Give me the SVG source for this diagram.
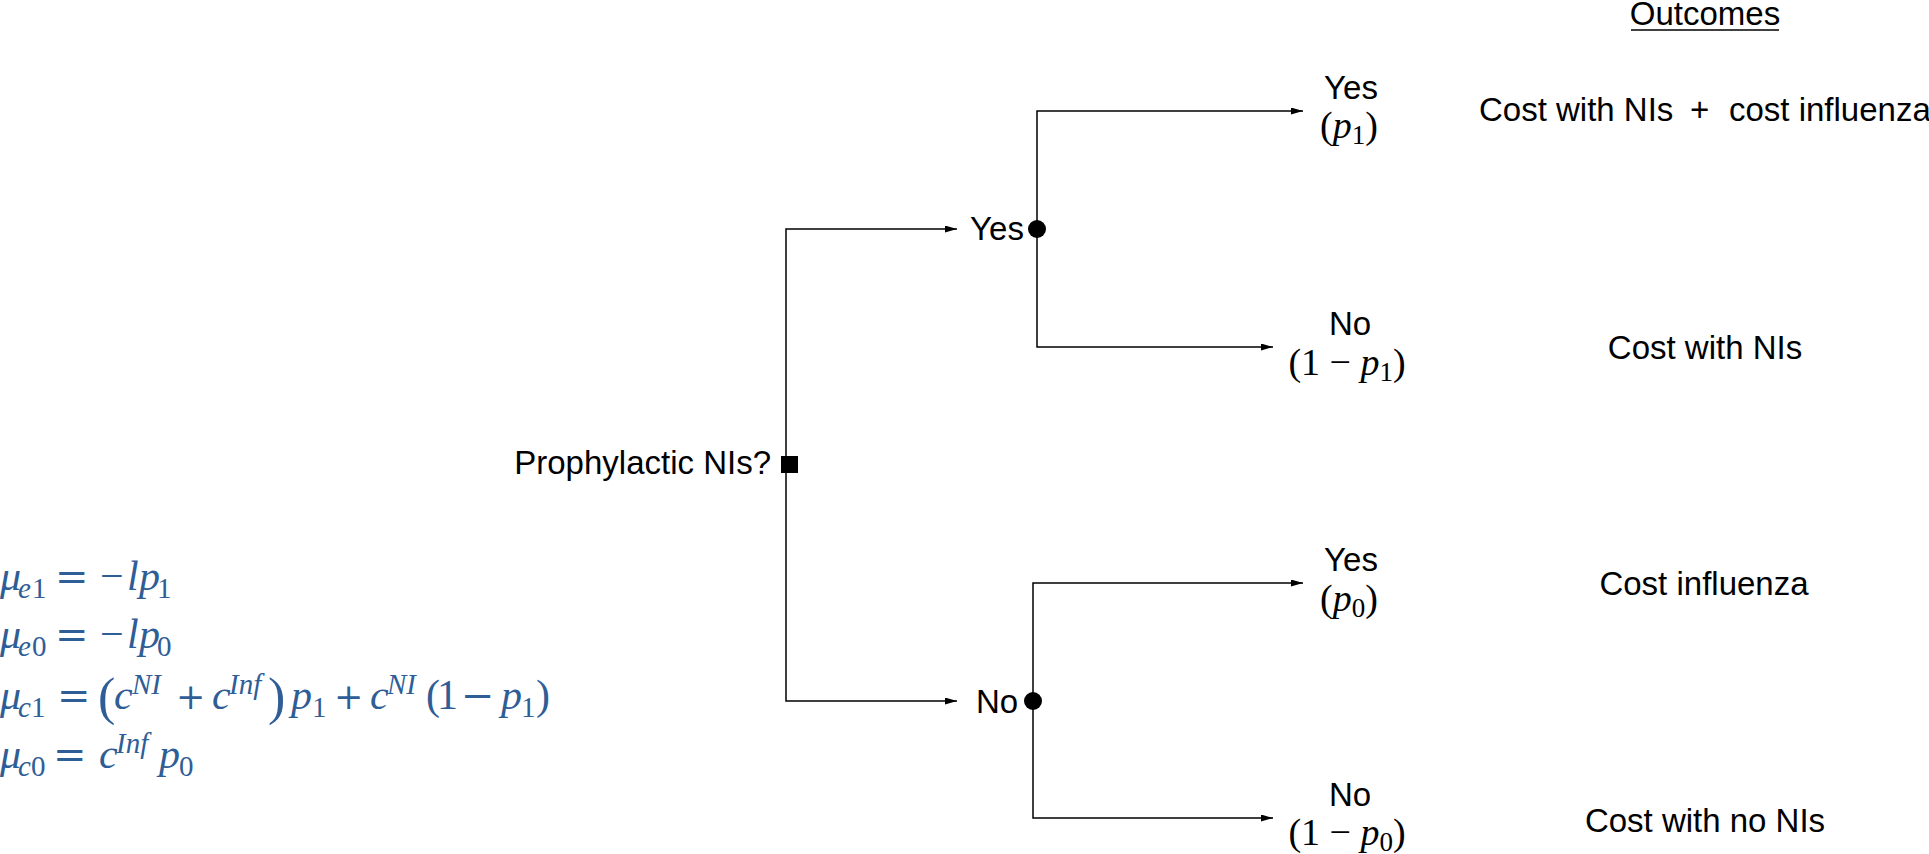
<svg xmlns="http://www.w3.org/2000/svg" width="1929" height="854" viewBox="0 0 1929 854">
<defs>
<marker id="arr" markerUnits="userSpaceOnUse" markerWidth="13" markerHeight="8" refX="12" refY="3.5" orient="auto">
<path d="M0,0 L12,3.5 L0,7 z" fill="#000"/>
</marker>
<style>
.sans{font-family:"Liberation Sans",Arial,sans-serif;font-size:33px;fill:#000}
.m{font-family:"Liberation Serif","Times New Roman",serif;font-size:38px;fill:#000}
.f{font-family:"Liberation Serif","Times New Roman",serif;font-size:42px;fill:#2f5d96}
.i{font-style:italic}
.s{font-size:29px}
.ms{font-size:27px}
.op{font-family:"DejaVu Serif",serif;font-size:40px}
.pl{font-family:"DejaVu Serif",serif;font-size:35px}
.big{font-size:52px}
.edge{fill:none;stroke:#000;stroke-width:1.5}
</style>
</defs>
<rect width="1929" height="854" fill="#fff"/>

<g id="connectors">
<path class="edge" d="M786,464 V229 H957" marker-end="url(#arr)"/>
<path class="edge" d="M786,464 V701 H957" marker-end="url(#arr)"/>
<path class="edge" d="M1037,229 V111 H1303" marker-end="url(#arr)"/>
<path class="edge" d="M1037,229 V347 H1273" marker-end="url(#arr)"/>
<path class="edge" d="M1033,701 V583 H1303" marker-end="url(#arr)"/>
<path class="edge" d="M1033,701 V818 H1273" marker-end="url(#arr)"/>
</g>

<g id="decision">
<rect x="781" y="456" width="17" height="17" fill="#000"/>
<text class="sans" x="771" y="474" text-anchor="end">Prophylactic NIs?</text>
</g>

<g id="chance-yes">
<circle cx="1037" cy="229" r="9" fill="#000"/>
<text class="sans" x="997" y="240" text-anchor="middle">Yes</text>
</g>

<g id="chance-no">
<circle cx="1033" cy="701" r="9" fill="#000"/>
<text class="sans" x="997" y="713" text-anchor="middle">No</text>
</g>

<g id="leaf-yes-yes">
<text class="sans" x="1351" y="99" text-anchor="middle">Yes</text>
<text class="m" x="1349" y="138" text-anchor="middle">(<tspan class="i">p</tspan><tspan class="ms" dy="6">1</tspan><tspan dy="-6">)</tspan></text>
</g>

<g id="leaf-yes-no">
<text class="sans" x="1350" y="335" text-anchor="middle">No</text>
<text class="m" x="1347" y="375" text-anchor="middle">(1 − <tspan class="i">p</tspan><tspan class="ms" dy="6">1</tspan><tspan dy="-6">)</tspan></text>
</g>

<g id="leaf-no-yes">
<text class="sans" x="1351" y="571" text-anchor="middle">Yes</text>
<text class="m" x="1349" y="611" text-anchor="middle">(<tspan class="i">p</tspan><tspan class="ms" dy="6">0</tspan><tspan dy="-6">)</tspan></text>
</g>

<g id="leaf-no-no">
<text class="sans" x="1350" y="806" text-anchor="middle">No</text>
<text class="m" x="1347" y="845" text-anchor="middle">(1 − <tspan class="i">p</tspan><tspan class="ms" dy="6">0</tspan><tspan dy="-6">)</tspan></text>
</g>

<g id="outcomes">
<text class="sans" x="1705" y="25" text-anchor="middle">Outcomes</text>
<line x1="1631" y1="30" x2="1779" y2="30" stroke="#000" stroke-width="1.5"/>
<text class="sans" y="121"><tspan x="1479">Cost with NIs</tspan><tspan x="1690">+</tspan><tspan x="1729">cost influenza</tspan></text>
<text class="sans" x="1705" y="359" text-anchor="middle">Cost with NIs</text>
<text class="sans" x="1704" y="595" text-anchor="middle">Cost influenza</text>
<text class="sans" x="1705" y="832" text-anchor="middle">Cost with no NIs</text>
</g>

<g id="formulas">
<text class="f" y="590"><tspan class="i" x="0">μ</tspan><tspan class="i s" x="18" y="598">e</tspan><tspan class="s" x="32" y="598">1</tspan><tspan class="op" x="55" y="590">=</tspan><tspan x="100" y="590">−</tspan><tspan class="i" x="127" y="590">l</tspan><tspan class="i" x="139" y="590">p</tspan><tspan class="s" x="157" y="598">1</tspan></text>
<text class="f" y="648"><tspan class="i" x="0">μ</tspan><tspan class="i s" x="18" y="656">e</tspan><tspan class="s" x="32" y="656">0</tspan><tspan class="op" x="55" y="648">=</tspan><tspan x="100" y="648">−</tspan><tspan class="i" x="127" y="648">l</tspan><tspan class="i" x="139" y="648">p</tspan><tspan class="s" x="157" y="656">0</tspan></text>
<text class="f" y="709"><tspan class="i" x="0">μ</tspan><tspan class="i s" x="18" y="717">c</tspan><tspan class="s" x="31" y="717">1</tspan><tspan class="op" x="57" y="709">=</tspan><tspan class="big" x="98" y="714">(</tspan><tspan class="i" x="114" y="709">c</tspan><tspan class="i s" x="132" y="694">NI</tspan><tspan class="pl" x="176" y="709">+</tspan><tspan class="i" x="212" y="709">c</tspan><tspan class="i s" x="229" y="694">Inf</tspan><tspan class="big" x="268" y="714">)</tspan><tspan class="i" x="291" y="709">p</tspan><tspan class="s" x="312" y="717">1</tspan><tspan class="pl" x="334" y="709">+</tspan><tspan class="i" x="370" y="709">c</tspan><tspan class="i s" x="387" y="694">NI</tspan><tspan x="426" y="709">(</tspan><tspan x="437" y="709">1</tspan><tspan class="op" x="461" y="709">−</tspan><tspan class="i" x="501" y="709">p</tspan><tspan class="s" x="521" y="717">1</tspan><tspan x="536" y="709">)</tspan></text>
<text class="f" y="768"><tspan class="i" x="0">μ</tspan><tspan class="i s" x="18" y="776">c</tspan><tspan class="s" x="31" y="776">0</tspan><tspan class="op" x="53" y="768">=</tspan><tspan class="i" x="99" y="768">c</tspan><tspan class="i s" x="116" y="753">Inf</tspan><tspan class="i" x="159" y="768">p</tspan><tspan class="s" x="179" y="776">0</tspan></text>
</g>
</svg>
